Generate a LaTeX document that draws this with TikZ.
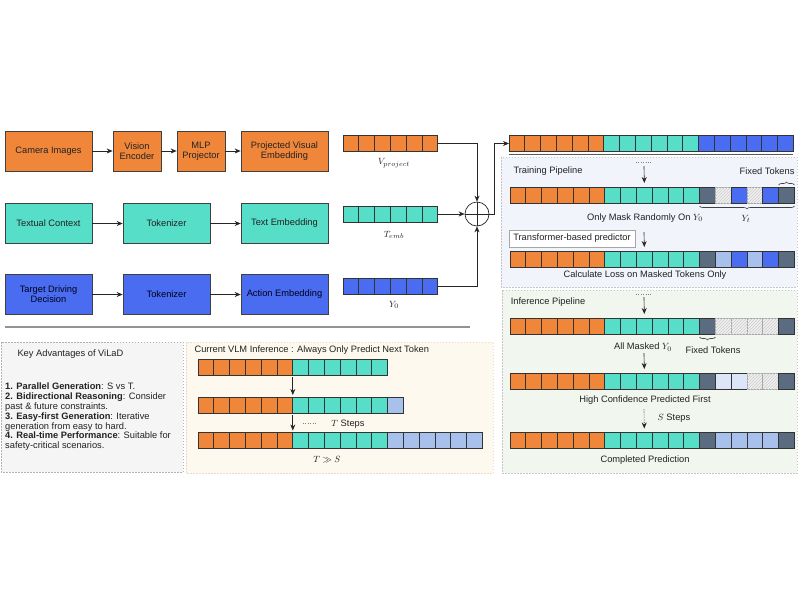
\documentclass[tikz,border=0pt]{standalone}
\usepackage{fontspec}
\setmainfont{Liberation Sans}
\usetikzlibrary{arrows.meta,decorations.pathreplacing,patterns}

\definecolor{cOr}{HTML}{F0863A}
\definecolor{cTe}{HTML}{56DEC8}
\definecolor{cBl}{HTML}{4A6CF0}
\definecolor{cSl}{HTML}{5C6C80}
\definecolor{cLb}{HTML}{A8C0EC}
\definecolor{cVl}{HTML}{DCE6F8}
\definecolor{txt}{HTML}{222222}
\definecolor{bgTr}{HTML}{F1F4FB}
\definecolor{bgIn}{HTML}{F1F6EE}
\definecolor{bgKey}{HTML}{F5F5F5}
\definecolor{bgVlm}{HTML}{FDF9EE}

\newcommand{\tokrow}[4]{%
  \foreach \st [count=\i] in {#4}{%
    \node[cell,\st] (#1-\i) at ({#2+(\i-0.5)*15.8},#3) {};
  }%
}

\tikzset{
  every node/.style={font=\fontsize{9.3}{10}\selectfont, text=txt},
  box/.style={draw=black!75, line width=0.7pt, minimum height=40pt, align=center, inner sep=1pt},
  cell/.style={draw=black!80, line width=0.65pt, minimum width=15.8pt, minimum height=16pt, inner sep=0pt, outer sep=0pt},
  tkO/.style={fill=cOr}, tkT/.style={fill=cTe}, tkB/.style={fill=cBl},
  tkG/.style={fill=cSl}, tkL/.style={fill=cLb}, tkV/.style={fill=cVl},
  tkH/.style={fill=gray!12, draw=gray!70, postaction={pattern=north east lines, pattern color=gray!40}},
  arr/.style={-{Stealth[length=6pt,width=5pt]}, line width=0.65pt, draw=black!85},
  panel/.style={dash pattern=on 1.5pt off 1.5pt, line width=0.6pt},
  brc/.style={decorate, decoration={brace, amplitude=3pt}, line width=0.6pt, draw=black!75},
}

\begin{document}
\begin{tikzpicture}[x=1pt,y=-1pt]
\useasboundingbox (0,0) rectangle (800,600);

% ---------- panels ----------
\draw[panel, draw=gray!45, fill=bgTr] (501,157) rectangle (797,287);
\draw[panel, draw=gray!45, fill=bgIn] (502,290) rectangle (797,473);
\draw[panel, draw=gray!60, fill=bgKey] (1,342) rectangle (183,472);
\draw[panel, draw=brown!30, fill=bgVlm] (186,342) rectangle (493,473);

% ---------- top-left pipeline boxes ----------
\node[box, fill=cOr, minimum width=87pt] (cam) at (48.5,151) {Camera Images};
\node[box, fill=cOr, minimum width=48pt] (venc) at (137,151) {Vision\\Encoder};
\node[box, fill=cOr, minimum width=48pt] (mlp) at (201,151) {MLP\\Projector};
\node[box, fill=cOr, minimum width=87pt] (pve) at (284.5,151) {Projected Visual\\Embedding};

\node[box, fill=cTe, minimum width=87pt] (txc) at (48.5,223.5) {Textual Context};
\node[box, fill=cTe, minimum width=87pt] (tok1) at (166.5,223.5) {Tokenizer};
\node[box, fill=cTe, minimum width=87pt] (temb) at (284.5,223.5) {Text Embedding};

\node[box, fill=cBl, minimum width=87pt, text=black!90!blue] (tdd) at (48.5,294.5) {Target Driving\\Decision};
\node[box, fill=cBl, minimum width=87pt, text=black!90!blue] (tok2) at (166.5,294.5) {Tokenizer};
\node[box, fill=cBl, minimum width=87pt, text=black!90!blue] (aemb) at (284.5,294.5) {Action Embedding};

\draw[arr] (cam) -- (venc);
\draw[arr] (venc) -- (mlp);
\draw[arr] (mlp) -- (pve);
\draw[arr] (txc) -- (tok1);
\draw[arr] (tok1) -- (temb);
\draw[arr] (tdd) -- (tok2);
\draw[arr] (tok2) -- (aemb);

% ---------- token rows (left) ----------
\tokrow{vrow}{343}{143}{tkO,tkO,tkO,tkO,tkO,tkO}
\tokrow{trow}{343}{214}{tkT,tkT,tkT,tkT,tkT,tkT}
\tokrow{yrow}{343}{286}{tkB,tkB,tkB,tkB,tkB,tkB}
\node (lv) at (394,163) {$V_{project}$};
\node (lt) at (394,235) {$T_{emb}$};
\node (ly) at (394,305) {$Y_0$};

\node[circle, draw=black!85, line width=0.7pt, minimum size=24pt, inner sep=0pt] (op) at (477,214) {};
\draw[line width=0.7pt, black!85] (op.north) -- (op.south);
\draw[line width=0.7pt, black!85] (op.west) -- (op.east);

\draw[arr] (vrow-6.east) -| (op.north);
\draw[arr] (trow-6.east) -- (op.west);
\draw[arr] (yrow-6.east) -| (op.south);

% ---------- combined row ----------
\tokrow{all}{509}{143.5}{tkO,tkO,tkO,tkO,tkO,tkO,tkT,tkT,tkT,tkT,tkT,tkT,tkB,tkB,tkB,tkB,tkB,tkB}
\draw[arr] (op.east) -- ++(5,0) |- (all-1.west);
\draw[black!65, line width=0.9pt] ([yshift=-3pt]all-1.south west) -- ([yshift=-3pt]all-18.south east);

% ---------- training pipeline ----------
\node (trl) at (548,171) {Training Pipeline};
\node (ft1) at (767,171) {Fixed Tokens};
\tokrow{tr1}{510}{195}{tkO,tkO,tkO,tkO,tkO,tkO,tkT,tkT,tkT,tkT,tkT,tkT,tkG,tkH,tkB,tkH,tkB,tkG}
\draw[brc] ([yshift=2pt]tr1-18.north west) -- ([yshift=2pt]tr1-18.north east);
\draw[brc] ([yshift=-3pt]tr1-18.south east) -- ([yshift=-3pt]tr1-13.south west);
\node (lyt) at (746,219) {$Y_t$};
\node (omr) at (645,218) {Only Mask Randomly On $Y_0$};

\coordinate (s1) at (644,162);
\draw[dotted, gray] ([xshift=-8pt]s1) -- ([xshift=8pt]s1);
\draw[arr] ([yshift=-4pt]s1) -- ([yshift=4pt]tr1-9.north);

\node[draw=gray!70, fill=white, line width=0.6pt, minimum width=126pt, minimum height=17pt, inner sep=0pt] (tbp) at (572,238.5) {Transformer-based predictor};
\tokrow{tr2}{510}{259}{tkO,tkO,tkO,tkO,tkO,tkO,tkT,tkT,tkT,tkT,tkT,tkT,tkG,tkL,tkB,tkL,tkB,tkG}
\coordinate (s2) at (644,232);
\draw[arr] (s2) -- ([yshift=4pt]tr2-9.north);
\node (cl) at (645,275) {Calculate Loss on Masked Tokens Only};

% ---------- inference pipeline ----------
\node (inl) at (548,302) {Inference Pipeline};
\tokrow{in1}{510}{326}{tkO,tkO,tkO,tkO,tkO,tkO,tkT,tkT,tkT,tkT,tkT,tkT,tkG,tkH,tkH,tkH,tkH,tkG}
\coordinate (s3) at (644,294);
\draw[dotted, gray] ([xshift=-8pt]s3) -- ([xshift=8pt]s3);
\draw[arr] ([yshift=-3pt]s3) -- ([yshift=4pt]in1-9.north);
\draw[brc] ([yshift=-3pt]in1-13.south east) -- ([yshift=-3pt]in1-13.south west);
\node (am) at (643,347) {All Masked $Y_0$};
\node (ft2) at (713,350) {Fixed Tokens};

\tokrow{in2}{510}{381}{tkO,tkO,tkO,tkO,tkO,tkO,tkT,tkT,tkT,tkT,tkT,tkT,tkG,tkV,tkV,tkH,tkH,tkG}
\coordinate (s4) at (644,353);
\draw[arr] (s4) -- ([yshift=4pt]in2-9.north);
\node (hc) at (645,400) {High Confidence Predicted First};

\tokrow{in3}{510}{440.5}{tkO,tkO,tkO,tkO,tkO,tkO,tkT,tkT,tkT,tkT,tkT,tkT,tkG,tkL,tkL,tkL,tkL,tkG}
\coordinate (s5) at (644,409);
\draw[arr, densely dotted] (s5) -- ([yshift=4pt]in3-9.north);
\node (ss) at (674,418) {$S$ Steps};
\node (cp) at (645,460) {Completed Prediction};

% ---------- separator ----------
\coordinate (sepL) at (5,327);
\coordinate (sepR) at (470,327);
\draw[gray!85, line width=1.3pt] (sepL) -- (sepR);

% ---------- key advantages ----------
\node[anchor=west] (kt) at (14,354) {Key Advantages of ViLaD};
\node[anchor=north west, align=left, inner sep=0pt, font=\fontsize{9.3}{9.8}\selectfont] (kl) at (5,383) {%
\textbf{1. Parallel Generation}: S vs T.\\
\textbf{2. Bidirectional Reasoning}: Consider\\
past \& future constraints.\\
\textbf{3. Easy-first Generation}: Iterative\\
generation from easy to hard.\\
\textbf{4. Real-time Performance}: Suitable for\\
safety-critical scenarios.};

% ---------- current VLM inference ----------
\node[anchor=west] (vt) at (191,350) {Current VLM Inference : Always Only Predict Next Token};
\tokrow{vl1}{198}{367}{tkO,tkO,tkO,tkO,tkO,tkO,tkT,tkT,tkT,tkT,tkT,tkT}
\tokrow{vl2}{198}{405}{tkO,tkO,tkO,tkO,tkO,tkO,tkT,tkT,tkT,tkT,tkT,tkT,tkL}
\tokrow{vl3}{198}{440.5}{tkO,tkO,tkO,tkO,tkO,tkO,tkT,tkT,tkT,tkT,tkT,tkT,tkL,tkL,tkL,tkL,tkL,tkL}
\draw[arr] ([yshift=-2pt]vl1-6.south east) -- ([yshift=2pt]vl2-6.north east);
\draw[arr] ([yshift=-2pt]vl2-6.south east) -- ([yshift=2pt]vl3-6.north east);
\coordinate (ts) at (310,423);
\draw[dotted, gray] ([xshift=-7pt]ts) -- ([xshift=7pt]ts);
\node (tst) at (348,424) {$T$ Steps};
\node (tgs) at (327,460) {$T \gg S$};
\end{tikzpicture}
\end{document}
